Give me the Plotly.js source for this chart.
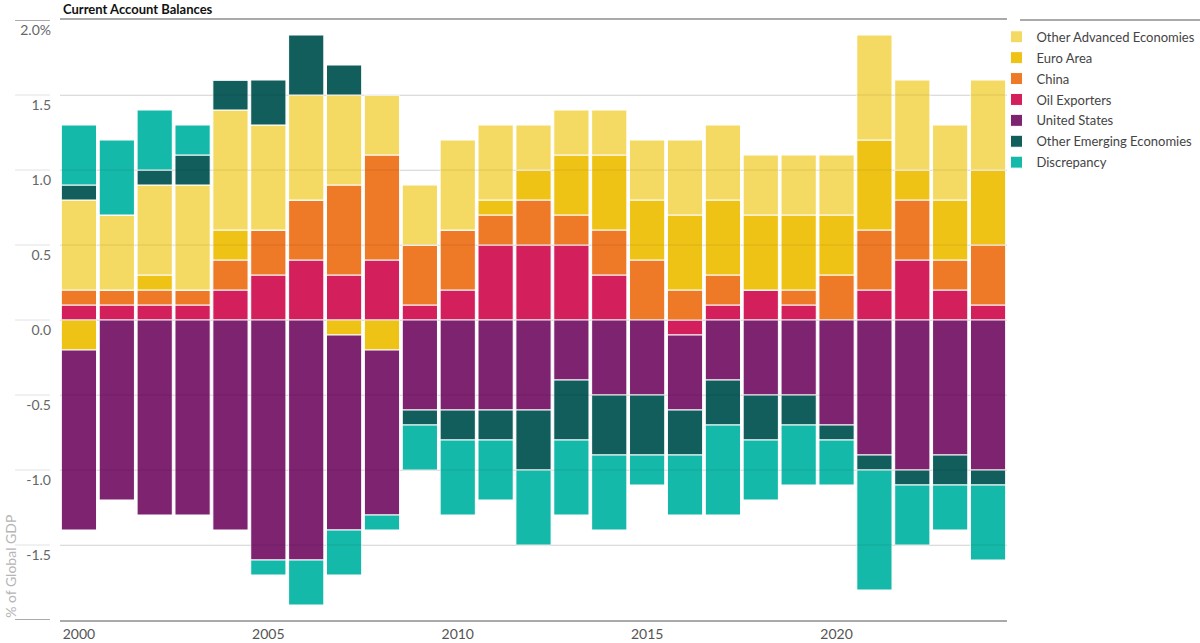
<!DOCTYPE html>
<html>
<head>
<meta charset="utf-8">
<script src="https://cdn.plot.ly/plotly-3.0.1.min.js"></script>
<style>
  html, body { margin: 0; padding: 0; background: #fff; }
  #chart { width: 1200px; height: 643px; }
</style>
</head>
<body>
<div id="chart"></div>
<script>
const years = [2000,2001,2002,2003,2004,2005,2006,2007,2008,2009,2010,2011,2012,2013,2014,2015,2016,2017,2018,2019,2020,2021,2022,2023,2024];

const oilExporters      = [0.1,0.1,0.1,0.1,0.2,0.3,0.4,0.3,0.4,0.1,0.2,0.5,0.5,0.5,0.3,0.0,-0.1,0.1,0.2,0.1,0.0,0.2,0.4,0.2,0.1];
const china             = [0.1,0.1,0.1,0.1,0.2,0.3,0.4,0.6,0.7,0.4,0.4,0.2,0.3,0.2,0.3,0.4,0.2,0.2,0.0,0.1,0.3,0.4,0.4,0.2,0.4];
const euroArea          = [-0.2,0.0,0.1,0.0,0.2,0.0,0.0,-0.1,-0.2,0.0,0.0,0.1,0.2,0.4,0.5,0.4,0.5,0.5,0.5,0.5,0.4,0.6,0.2,0.4,0.5];
const otherAdvanced     = [0.6,0.5,0.6,0.7,0.8,0.7,0.7,0.6,0.4,0.4,0.6,0.5,0.3,0.3,0.3,0.4,0.5,0.5,0.4,0.4,0.4,0.7,0.6,0.5,0.6];
const unitedStates      = [-1.2,-1.2,-1.3,-1.3,-1.4,-1.6,-1.6,-1.3,-1.1,-0.6,-0.6,-0.6,-0.6,-0.4,-0.5,-0.5,-0.5,-0.4,-0.5,-0.5,-0.7,-0.9,-1.0,-0.9,-1.0];
const otherEmerging     = [0.1,0.0,0.1,0.2,0.2,0.3,0.4,0.2,0.0,-0.1,-0.2,-0.2,-0.4,-0.4,-0.4,-0.4,-0.3,-0.3,-0.3,-0.2,-0.1,-0.1,-0.1,-0.2,-0.1];
const discrepancy       = [0.4,0.5,0.4,0.2,0.0,-0.1,-0.3,-0.3,-0.1,-0.3,-0.5,-0.4,-0.5,-0.5,-0.5,-0.2,-0.4,-0.6,-0.4,-0.4,-0.3,-0.8,-0.4,-0.3,-0.5];

const seriesNames = ["Oil Exporters","China","Euro Area","Other Advanced Economies","United States","Other Emerging Economies","Discrepancy"];
const seriesValues = [oilExporters, china, euroArea, otherAdvanced, unitedStates, otherEmerging, discrepancy];
const seriesColors = ["#D31F5B","#EE7A28","#EFC316","#F4DA62","#7E2370","#125E5D","#15B9A9"];
const legendRanks = [4,3,2,1,5,6,7];

const yTicks = [-2,-1.5,-1,-0.5,0,0.5,1,1.5,2];
const yTickText = ["","-1.5","-1.0","-0.5","0.0","0.5","1.0","1.5","2.0%"];
const xTicks = [2000,2005,2010,2015,2020];

const FONT = "Lato, 'Liberation Sans Narrow', sans-serif";

const traces = seriesNames.map((name, i) => ({
  type: "bar",
  name: name,
  legendgroup: "g" + i,
  x: years,
  y: seriesValues[i],
  legendrank: legendRanks[i],
  marker: { color: seriesColors[i], line: { color: "#ffffff", width: 1 } },
  hoverinfo: "x+y+name"
}));

const shapes = [];
yTicks.forEach((v, i) => {
  const edge = (i === 0 || i === yTicks.length - 1);
  shapes.push({
    type: "line", xref: "paper", yref: "y",
    x0: -0.0475, x1: -0.0106, y0: v, y1: v,
    line: { color: edge ? "#aaaaaa" : "#e2e2e2", width: edge ? 2 : 1 }
  });
  if (!edge) {
    shapes.push({
      type: "line", xref: "paper", yref: "y", layer: "above",
      x0: 0, x1: 1, y0: v, y1: v,
      line: { color: "rgba(0,0,0,0.09)", width: 1 }
    });
  }
});
// legend top rule
shapes.push({
  type: "line", xref: "paper", yref: "paper",
  x0: 1.0137, x1: 1.21, y0: 1, y1: 1,
  line: { color: "#aaaaaa", width: 2 }
});

const layout = {
  width: 1200, height: 643,
  margin: { l: 60, r: 193, t: 20, b: 23, autoexpand: false },
  paper_bgcolor: "#ffffff", plot_bgcolor: "#ffffff",
  barmode: "relative",
  bargap: 0.07,
  font: { family: FONT, size: 14, color: "#555555" },
  xaxis: {
    range: [1999.5, 2024.5],
    tickvals: xTicks,
    ticktext: xTicks.map(String),
    showgrid: false, zeroline: false,
    showline: true, mirror: true, linecolor: "#aaaaaa", linewidth: 2,
    ticks: "",
    tickfont: { family: FONT, size: 14, color: "#555555" },
    fixedrange: true
  },
  yaxis: {
    range: [-2, 2],
    tickvals: yTicks,
    ticktext: yTickText,
    ticklabelposition: "outside bottom",
    ticklabelstandoff: 8,
    showgrid: true, gridcolor: "#e6e6e6", gridwidth: 1,
    zeroline: false, showline: false, ticks: "",
    tickfont: { family: FONT, size: 14, color: "#666666" },
    fixedrange: true
  },
  legend: {
    x: 0.9889, xanchor: "left",
    y: 0.997, yanchor: "top",
    font: { family: FONT, size: 13, color: "#444444" },
    itemwidth: 30,
    tracegroupgap: 1,
    traceorder: "grouped",
    bgcolor: "rgba(0,0,0,0)"
  },
  annotations: [{
    text: "<b>Current Account Balances</b>",
    xref: "paper", yref: "paper",
    x: 0, xanchor: "left", xshift: 1,
    y: 1, yanchor: "bottom", yshift: 1,
    showarrow: false,
    font: { family: FONT, size: 13, color: "#111111" }
  }, {
    text: "% of Global GDP",
    textangle: -90,
    xref: "paper", yref: "paper",
    x: -0.0635, xanchor: "left",
    y: 0, yanchor: "bottom",
    showarrow: false,
    font: { family: FONT, size: 14, color: "#b5b5b5" }
  }],
  shapes: shapes,
  showlegend: true
};

Plotly.newPlot("chart", traces, layout, { displayModeBar: false });
</script>
</body>
</html>
